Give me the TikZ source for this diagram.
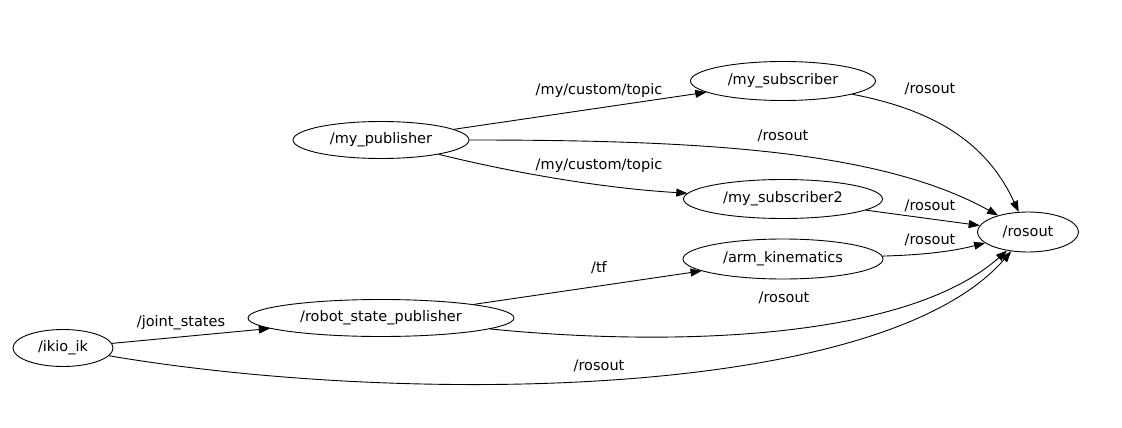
\documentclass[tikz,border=0pt]{standalone}
\usepackage{fontspec}
\setmainfont{DejaVu Sans}
\usetikzlibrary{shapes.geometric,arrows.meta}
\begin{document}
\begin{tikzpicture}[x=1pt,y=-1pt,
  rosnode/.style={draw,ellipse,inner sep=0pt,line width=0.9pt,font=\fontsize{14.5}{17}\selectfont},
  lbl/.style={inner sep=0pt,font=\fontsize{14.5}{17}\selectfont},
  edge/.style={draw,line width=0.9pt,-{Triangle[length=11pt,width=8pt]}}]
\useasboundingbox (0,0) rectangle (1122,428);
\node[rosnode,minimum width=176pt,minimum height=37pt] (pub) at (381,140) {/my\_publisher};
\node[rosnode,minimum width=185pt,minimum height=39pt] (sub) at (783,81) {/my\_subscriber};
\node[rosnode,minimum width=199pt,minimum height=39pt] (sub2) at (783,199) {/my\_subscriber2};
\node[rosnode,minimum width=101pt,minimum height=40pt] (rosout) at (1028,232) {/rosout};
\node[rosnode,minimum width=200pt,minimum height=40pt] (arm) at (783,259) {/arm\_kinematics};
\node[rosnode,minimum width=266pt,minimum height=37pt] (rsp) at (381,318) {/robot\_state\_publisher};
\node[rosnode,minimum width=100pt,minimum height=37pt] (ikio) at (63,348) {/ikio\_ik};

\draw[edge] (pub) -- (sub);
\draw[edge] (pub) .. controls (700,140) and (880,150) .. (rosout);
\draw[edge] (pub) .. controls (510,172) and (600,188) .. (sub2);
\draw[edge] (sub) .. controls (945,112) and (990,150) .. (rosout);
\draw[edge] (sub2) -- (rosout);
\draw[edge] (arm) .. controls (920,255) and (950,252) .. (rosout);
\draw[edge] (rsp) -- (arm);
\draw[edge] (rsp) .. controls (650,345) and (900,345) .. (rosout);
\draw[edge] (ikio) -- (rsp);
\draw[edge] (ikio) .. controls (400,405) and (880,402) .. (rosout);

\node[lbl] (l1) at (599,90) {/my/custom/topic};
\node[lbl] (l2) at (599,165) {/my/custom/topic};
\node[lbl] (l3) at (930,89) {/rosout};
\node[lbl] (l4) at (783,136) {/rosout};
\node[lbl] (l5) at (930,206) {/rosout};
\node[lbl] (l6) at (930,240) {/rosout};
\node[lbl] (l7) at (599,268) {/tf};
\node[lbl] (l8) at (784,298) {/rosout};
\node[lbl] (l9) at (181,323) {/joint\_states};
\node[lbl] (l10) at (599,366) {/rosout};
\end{tikzpicture}
\end{document}
